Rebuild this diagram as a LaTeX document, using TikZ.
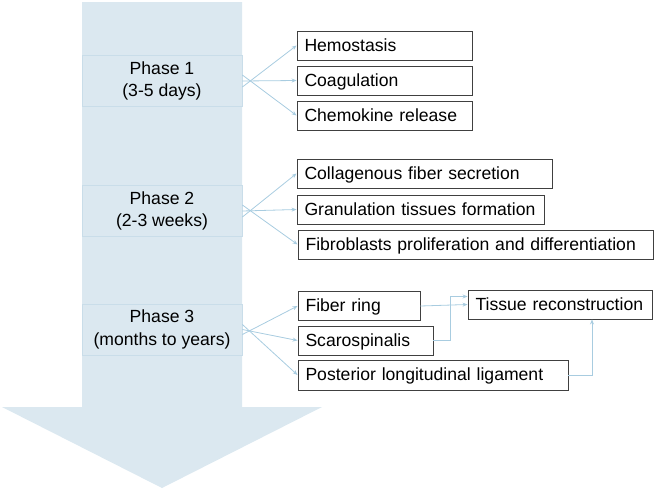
\documentclass[tikz,border=0pt]{standalone}
\usepackage{fontspec}
\setmainfont{Liberation Sans}
\usetikzlibrary{arrows.meta}
\definecolor{arrowfill}{HTML}{DBE8F0}
\definecolor{phaseline}{HTML}{C9DDE9}
\definecolor{conn}{HTML}{A8CCE0}
\definecolor{boxline}{HTML}{404040}
\begin{document}
\begin{tikzpicture}[x=1pt,y=-1pt,
  every node/.style={font=\fontsize{17.6}{22.5}\selectfont},
  box/.style={draw=boxline, line width=0.9pt, fill=white, minimum height=29pt, inner xsep=7.5pt, inner ysep=0pt, align=left, text height=13.5pt, text depth=2pt},
  phasebox/.style={draw=phaseline, line width=0.8pt, fill=arrowfill, minimum width=160pt, minimum height=51pt, align=center, inner sep=0pt},
  conn/.style={draw=conn, line width=0.8pt, -{Stealth[length=5pt,width=4pt]}},
]
\useasboundingbox (0,0) rectangle (656,490);
% big arrow
\fill[arrowfill] (82,2) -- (242,2) -- (242,407) -- (322,407) -- (162,488) -- (2,407) -- (82,407) -- cycle;
% phase boxes
\node[phasebox] (p1) at (162,81) {Phase 1\\(3-5 days)};
\node[phasebox] (p2) at (162,211) {Phase 2\\(2-3 weeks)};
\node[phasebox] (p3) at (162,329.5) {Phase 3\\(months to years)};
% phase 1 boxes
\node[box, text width=160pt] (a1) at (384.5,45.5) {\mbox{Hemostasis}};
\node[box, text width=160pt] (a2) at (384.5,80.5) {\mbox{Coagulation}};
\node[box, text width=160pt] (a3) at (384.5,115.5) {\mbox{Chemokine release}};
% phase 2 boxes
\node[box, text width=240pt] (b1) at (424.5,173.5) {\mbox{Collagenous fiber secretion}};
\node[box, text width=232pt] (b2) at (420.5,209.5) {\mbox{Granulation tissues formation}};
\node[box, text width=340pt] (b3) at (475.5,244.5) {\mbox{Fibroblasts proliferation and differentiation}};
% phase 3 boxes
\node[box, text width=107pt] (c1) at (359,306) {\mbox{Fiber ring}};
\node[box, text width=120pt] (c2) at (365.5,340.5) {\mbox{Scarospinalis}};
\node[box, text width=255pt, minimum height=30pt] (c3) at (433,375) {\mbox{Posterior longitudinal ligament}};
\node[box, text width=169pt] (tr) at (560,304.5) {\mbox{Tissue reconstruction}};
% connectors phase 1
\draw[conn] ([yshift=-6pt]p1.east) -- (a1.west);
\draw[conn] (p1.east) -- (a2.west);
\draw[conn] ([yshift=6pt]p1.east) -- (a3.west);
% connectors phase 2
\draw[conn] ([yshift=-6pt]p2.east) -- (b1.west);
\draw[conn] (p2.east) -- (b2.west);
\draw[conn] ([yshift=6pt]p2.east) -- (b3.west);
% connectors phase 3
\draw[conn] ([yshift=-5pt]p3.east) -- (c1.west);
\draw[conn] (p3.east) -- (c2.west);
\draw[conn] ([yshift=5pt]p3.east) -- (c3.west);
% to tissue reconstruction
\draw[conn] (c1.east) -- ([yshift=1.5pt]c1.east -| tr.west);
\draw[conn] (c2.east) -- ++(17pt,0) |- ([yshift=8pt]tr.west);
\draw[conn] (c3.east) -| ([xshift=32pt]tr.south);
\end{tikzpicture}
\end{document}
